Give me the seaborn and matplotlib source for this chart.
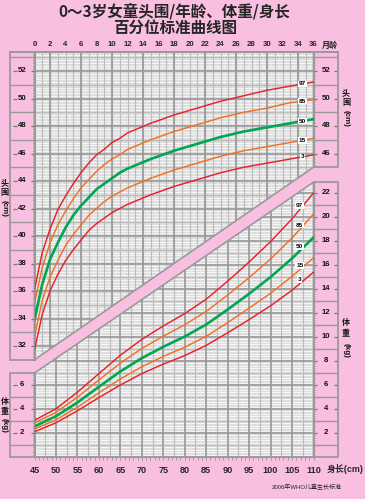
import numpy as np
import pandas as pd
import matplotlib
matplotlib.use('Agg')
import matplotlib.pyplot as plt
import seaborn as sns
from matplotlib.patches import Polygon, Rectangle

sns.set_theme(style='white')
plt.rcParams['font.family'] = ['Liberation Sans', 'Noto Sans CJK SC', 'DejaVu Sans']

# ---------------- data ----------------
pct_names = ['3', '15', '50', '85', '97']

months = [0, 1, 2, 3, 4, 5, 6, 7, 8, 9, 10, 11, 12, 15, 18, 21, 24, 27, 30, 33, 36]
hc_p3 = [31.7, 34.3, 36.0, 37.2, 38.2, 39.0, 39.7, 40.4, 40.9, 41.3, 41.7, 42.0, 42.3, 43.0, 43.6, 44.1, 44.6, 45.0, 45.3, 45.6, 45.9]
hc_p15 = [32.7, 35.3, 37.0, 38.2, 39.3, 40.1, 40.8, 41.5, 42.0, 42.5, 42.9, 43.2, 43.5, 44.2, 44.8, 45.3, 45.8, 46.2, 46.5, 46.8, 47.1]
hc_p50 = [33.9, 36.5, 38.3, 39.5, 40.6, 41.5, 42.2, 42.8, 43.4, 43.8, 44.2, 44.6, 44.9, 45.6, 46.2, 46.7, 47.2, 47.6, 47.9, 48.2, 48.5]
hc_p85 = [35.1, 37.7, 39.5, 40.8, 41.8, 42.7, 43.5, 44.1, 44.7, 45.2, 45.6, 45.9, 46.3, 47.0, 47.6, 48.1, 48.6, 49.0, 49.3, 49.7, 49.9]
hc_p97 = [36.1, 38.8, 40.5, 41.9, 42.9, 43.8, 44.6, 45.3, 45.9, 46.3, 46.8, 47.1, 47.5, 48.2, 48.8, 49.3, 49.8, 50.2, 50.6, 50.9, 51.2]

lengths = [45, 50, 55, 60, 65, 70, 75, 80, 85, 90, 95, 100, 105, 110]
wt_p3 = [2.10, 2.85, 3.85, 4.95, 6.00, 6.95, 7.74, 8.45, 9.30, 10.35, 11.45, 12.60, 13.90, 15.40]
wt_p15 = [2.33, 3.10, 4.15, 5.35, 6.50, 7.52, 8.38, 9.15, 10.05, 11.20, 12.40, 13.65, 15.05, 16.60]
wt_p50 = [2.55, 3.40, 4.54, 5.85, 7.13, 8.24, 9.18, 10.04, 11.04, 12.29, 13.60, 15.00, 16.55, 18.30]
wt_p85 = [2.84, 3.72, 4.98, 6.42, 7.82, 9.04, 10.07, 11.02, 12.13, 13.50, 14.95, 16.50, 18.25, 20.25]
wt_p97 = [3.06, 4.02, 5.40, 6.95, 8.48, 9.80, 10.92, 11.95, 13.15, 14.65, 16.25, 17.95, 19.85, 22.00]

month_ticks = list(range(0, 37, 2))
length_ticks = list(range(45, 111, 5))
hc_left_ticks = list(range(32, 53, 2))
hc_right_ticks = [46, 48, 50, 52]
wt_right_ticks = list(range(2, 23, 2))
wt_left_ticks = [2, 4, 6]

title1 = '0～3岁女童头围/年龄、体重/身长'
title2 = '百分位标准曲线图'
source = '2006年WHO儿童生长标准'

# ---------------- style ----------------
W, H = 365, 499
PINK = '#f9bfe0'
GRID_BG = '#dcdcdc'
DARK = '#989898'
MED = '#bcbcbc'
EDGE = '#9a9a9a'
RED, ORANGE, GREEN = '#e8202a', '#f36f21', '#00a651'
palette = {'3': RED, '15': ORANGE, '50': GREEN, '85': ORANGE, '97': RED}
sizes = {'3': 1.05, '15': 1.05, '50': 1.9, '85': 1.05, '97': 1.05}

GX0, GX1, GY0, GY1 = 34.5, 313.5, 52.0, 457.0


def fx(px):
    return px / W


def fy(py):
    return 1 - py / H


def afx(px):
    return (px - GX0) / (GX1 - GX0)


rect = [fx(GX0), fy(GY1), (GX1 - GX0) / W, (GY1 - GY0) / H]
HC_TOP = 52 + (71 - GY0) / 13.75
HC_BOT = 52 - (GY1 - 71) / 13.75
WT_TOP = (GY1 - GY0) / 12.0

fig = plt.figure(figsize=(W / 100, H / 100), dpi=100, facecolor=PINK)
ax_w = fig.add_axes(rect)
ax_h = fig.add_axes(rect)
for ax in (ax_w, ax_h):
    ax.patch.set_visible(False)
    for s in ax.spines.values():
        s.set_visible(False)
    ax.tick_params(left=False, right=False, labelleft=False, labelright=False)

ax_h.set_xlim(0, 36)
ax_h.set_ylim(HC_BOT, HC_TOP)
ax_w.set_xlim(45, 110)
ax_w.set_ylim(0, WT_TOP)

# ---------------- grid regions ----------------
head_poly = Polygon([(0, HC_TOP), (36, HC_TOP), (36, 45.0), (0, 31.0)], closed=True,
                    fc=GRID_BG, ec='none', zorder=0)
ax_h.add_patch(head_poly)
wt_poly = Polygon([(45, 0), (110, 0), (110, 22.9), (45, 7.0)], closed=True,
                  fc=GRID_BG, ec='none', zorder=0)
ax_w.add_patch(wt_poly)


def clipped(coll, poly):
    coll.set_clip_path(poly)
    return coll


# head grid
clipped(ax_h.hlines(np.arange(24.2, 53.4, 0.2), 0, 36, colors='white', lw=0.55, zorder=1), head_poly)
clipped(ax_h.vlines(np.arange(0.5, 36, 1.0), HC_BOT, HC_TOP, colors='#ededed', lw=0.5, zorder=1), head_poly)
clipped(ax_h.vlines(np.arange(1, 36, 1), HC_BOT, HC_TOP, colors=MED, lw=0.8, zorder=2), head_poly)
clipped(ax_h.hlines(np.arange(25, 54, 2), 0, 36, colors=MED, lw=0.9, zorder=2), head_poly)
clipped(ax_h.vlines(np.arange(2, 36, 4), HC_BOT, HC_TOP, colors=DARK, lw=1.2, zorder=3), head_poly)
clipped(ax_h.hlines(np.arange(24, 54, 2), 0, 36, colors=DARK, lw=1.2, zorder=3), head_poly)

# weight grid
clipped(ax_w.hlines(np.arange(0.2, WT_TOP, 0.2), 45, 110, colors='white', lw=0.55, zorder=1), wt_poly)
clipped(ax_w.vlines(np.arange(45.5, 110, 1.0), 0, WT_TOP, colors='#ededed', lw=0.5, zorder=1), wt_poly)
clipped(ax_w.vlines(np.arange(47.5, 110, 5), 0, WT_TOP, colors=MED, lw=0.8, zorder=2), wt_poly)
clipped(ax_w.hlines(np.arange(1, 34, 2), 45, 110, colors=MED, lw=0.9, zorder=2), wt_poly)
clipped(ax_w.vlines(np.arange(50, 110, 5), 0, WT_TOP, colors=DARK, lw=1.2, zorder=3), wt_poly)
clipped(ax_w.hlines(np.arange(2, 34, 2), 45, 110, colors=DARK, lw=1.2, zorder=3), wt_poly)

# region outlines
ax_h.add_patch(Polygon(head_poly.get_xy(), closed=True, fc='none', ec=EDGE, lw=1.2, zorder=4, clip_on=False))
ax_w.add_patch(Polygon(wt_poly.get_xy(), closed=True, fc='none', ec=EDGE, lw=1.2, zorder=4, clip_on=False))

# ---------------- curves ----------------
hc_df = pd.DataFrame({
    'x': months * 5,
    'y': hc_p3 + hc_p15 + hc_p50 + hc_p85 + hc_p97,
    'pct': sum([[p] * len(months) for p in pct_names], []),
})
wt_df = pd.DataFrame({
    'x': lengths * 5,
    'y': wt_p3 + wt_p15 + wt_p50 + wt_p85 + wt_p97,
    'pct': sum([[p] * len(lengths) for p in pct_names], []),
})
sns.lineplot(data=hc_df, x='x', y='y', hue='pct', size='pct', palette=palette, sizes=sizes,
             hue_order=pct_names, size_order=pct_names, estimator=None, legend=False, ax=ax_h, zorder=6)
sns.lineplot(data=wt_df, x='x', y='y', hue='pct', size='pct', palette=palette, sizes=sizes,
             hue_order=pct_names, size_order=pct_names, estimator=None, legend=False, ax=ax_w, zorder=6)
for ax in (ax_h, ax_w):
    ax.set_xlabel('')
    ax.set_ylabel('')

# percentile labels
hc_series = [hc_p3, hc_p15, hc_p50, hc_p85, hc_p97]
wt_series = [wt_p3, wt_p15, wt_p50, wt_p85, wt_p97]
lbl_kw = dict(fontsize=4.6, fontweight='bold', ha='center', va='center', color='black', zorder=8,
              bbox=dict(boxstyle='square,pad=0.12', fc='white', ec='none'))
for name, ser in zip(pct_names, hc_series):
    ax_h.text(34.6, np.interp(34.6, months, ser), name, **lbl_kw)
for name, ser in zip(pct_names, wt_series):
    ax_w.text(106.8, np.interp(106.8, lengths, ser) + 0.35, name, **lbl_kw)

# ---------------- axes ticks ----------------
ax_h.set_xticks(month_ticks)
ax_h.xaxis.tick_top()
ax_h.tick_params(axis='x', top=True, bottom=False, labeltop=True, labelbottom=False,
                 length=0, pad=3.2, labelsize=5.6)
for t in ax_h.get_xticklabels():
    t.set_fontweight('bold')
ax_h.set_yticks([])

ax_w.set_xticks(length_ticks)
ax_w.set_xticks(np.arange(45, 111, 1), minor=True)
ax_w.tick_params(axis='x', which='both', bottom=True, direction='out', length=2.2, width=0.7,
                 color=EDGE, pad=4.5, labelsize=6.6)
for t in ax_w.get_xticklabels():
    t.set_fontweight('bold')
ax_w.set_yticks([])
ax_w.spines['bottom'].set_visible(True)
ax_w.spines['bottom'].set_color(EDGE)
ax_w.spines['bottom'].set_linewidth(1.2)

# ---------------- side frames ----------------
LX0, LX1, RX0, RX1 = 10.0, GX0, GX1, 338.0
num_kw = dict(fontsize=5.6, fontweight='bold', ha='center', va='center', color='#111111', clip_on=False)


def side_frame(ax, x0, x1, y0, y1, labels, minor_step, side):
    tr = ax.get_yaxis_transform()
    ax.add_patch(Rectangle((afx(x0), y0), afx(x1) - afx(x0), y1 - y0, transform=tr, fc='none',
                           ec=EDGE, lw=1.3, clip_on=False, zorder=5))
    first_odd = int(np.ceil(y0)) | 1
    seps = [v for v in range(first_odd, int(y1) + 1, 2) if y0 < v < y1]
    ax.hlines(seps, afx(x0), afx(x1), transform=tr, colors=EDGE, lw=1.0, clip_on=False, zorder=5)
    cx = (x0 + x1) / 2
    for v in labels:
        ax.text(afx(cx), v, str(v), transform=tr, **num_kw)
    if side == 'left':
        outer = (x0 + 3.3, x0 + 6.5)
        inner = (x1 - 3.2, x1)
        mn = (x1 - 1.8, x1)
    else:
        outer = (x1 - 4.0, x1 - 1.0)
        inner = (x0, x0 + 3.2)
        mn = (x0, x0 + 1.8)
    ax.hlines(labels, afx(outer[0]), afx(outer[1]), transform=tr, colors='#777777', lw=0.9,
              clip_on=False, zorder=5)
    ax.hlines(labels, afx(inner[0]), afx(inner[1]), transform=tr, colors='#777777', lw=0.9,
              clip_on=False, zorder=5)
    minors = np.arange(np.ceil(y0 / minor_step) * minor_step, y1, minor_step)
    ax.hlines(minors, afx(mn[0]), afx(mn[1]), transform=tr, colors='#8a8a8a', lw=0.5,
              clip_on=False, zorder=5)


side_frame(ax_h, LX0, LX1, 31.0, HC_TOP, hc_left_ticks, 0.2, 'left')
side_frame(ax_h, RX0, RX1, 45.0, HC_TOP, hc_right_ticks, 0.2, 'right')
side_frame(ax_w, RX0, RX1, 0.0, 22.9, wt_right_ticks, 0.2, 'right')
side_frame(ax_w, LX0, LX1, 0.0, 7.0, wt_left_ticks, 0.2, 'left')

# ---------------- texts ----------------
cjk = ['Noto Sans CJK SC', 'DejaVu Sans']
fig.text(fx(174), fy(11.5), title1, family=cjk, fontsize=11.2, fontweight='bold', ha='center', va='center')
fig.text(fx(175), fy(28), title2, family=cjk, fontsize=11.2, fontweight='bold', ha='center', va='center')
fig.text(fx(330), fy(45), '月龄', family=cjk, fontsize=5.8, fontweight='bold', ha='center', va='center')
fig.text(fx(345), fy(469), '身长(cm)', family=['Liberation Sans', 'Noto Sans CJK SC'], fontsize=6.4,
         fontweight='bold', ha='center', va='center')
fig.text(fx(307), fy(487), source, family=['Liberation Sans', 'Noto Sans CJK SC'], fontsize=4.3,
         ha='center', va='center')

side_kw = dict(family=['Liberation Sans', 'Noto Sans CJK SC'], fontsize=5.8, fontweight='bold',
               ha='center', va='center', color='#111111')


def vlabel(x, y_chars, chars, y_unit, unit):
    for yy, ch in zip(y_chars, chars):
        fig.text(fx(x), fy(yy), ch, **side_kw)
    fig.text(fx(x), fy(y_unit), unit, rotation=-90, **side_kw)


vlabel(4.5, [183, 193.5], ['头', '围'], 208, '(cm)')
vlabel(346, [93, 103.5], ['头', '围'], 118, '(cm)')
vlabel(346, [323, 334.5], ['体', '重'], 350, '(kg)')
vlabel(4.5, [402, 412], ['体', '重'], 425, '(kg)')

# top border line across frames
fig.add_artist(plt.Line2D([fx(LX0), fx(RX1)], [fy(GY0), fy(GY0)], color=EDGE, lw=1.3))

fig.savefig('out.png', dpi=100, facecolor=PINK)
